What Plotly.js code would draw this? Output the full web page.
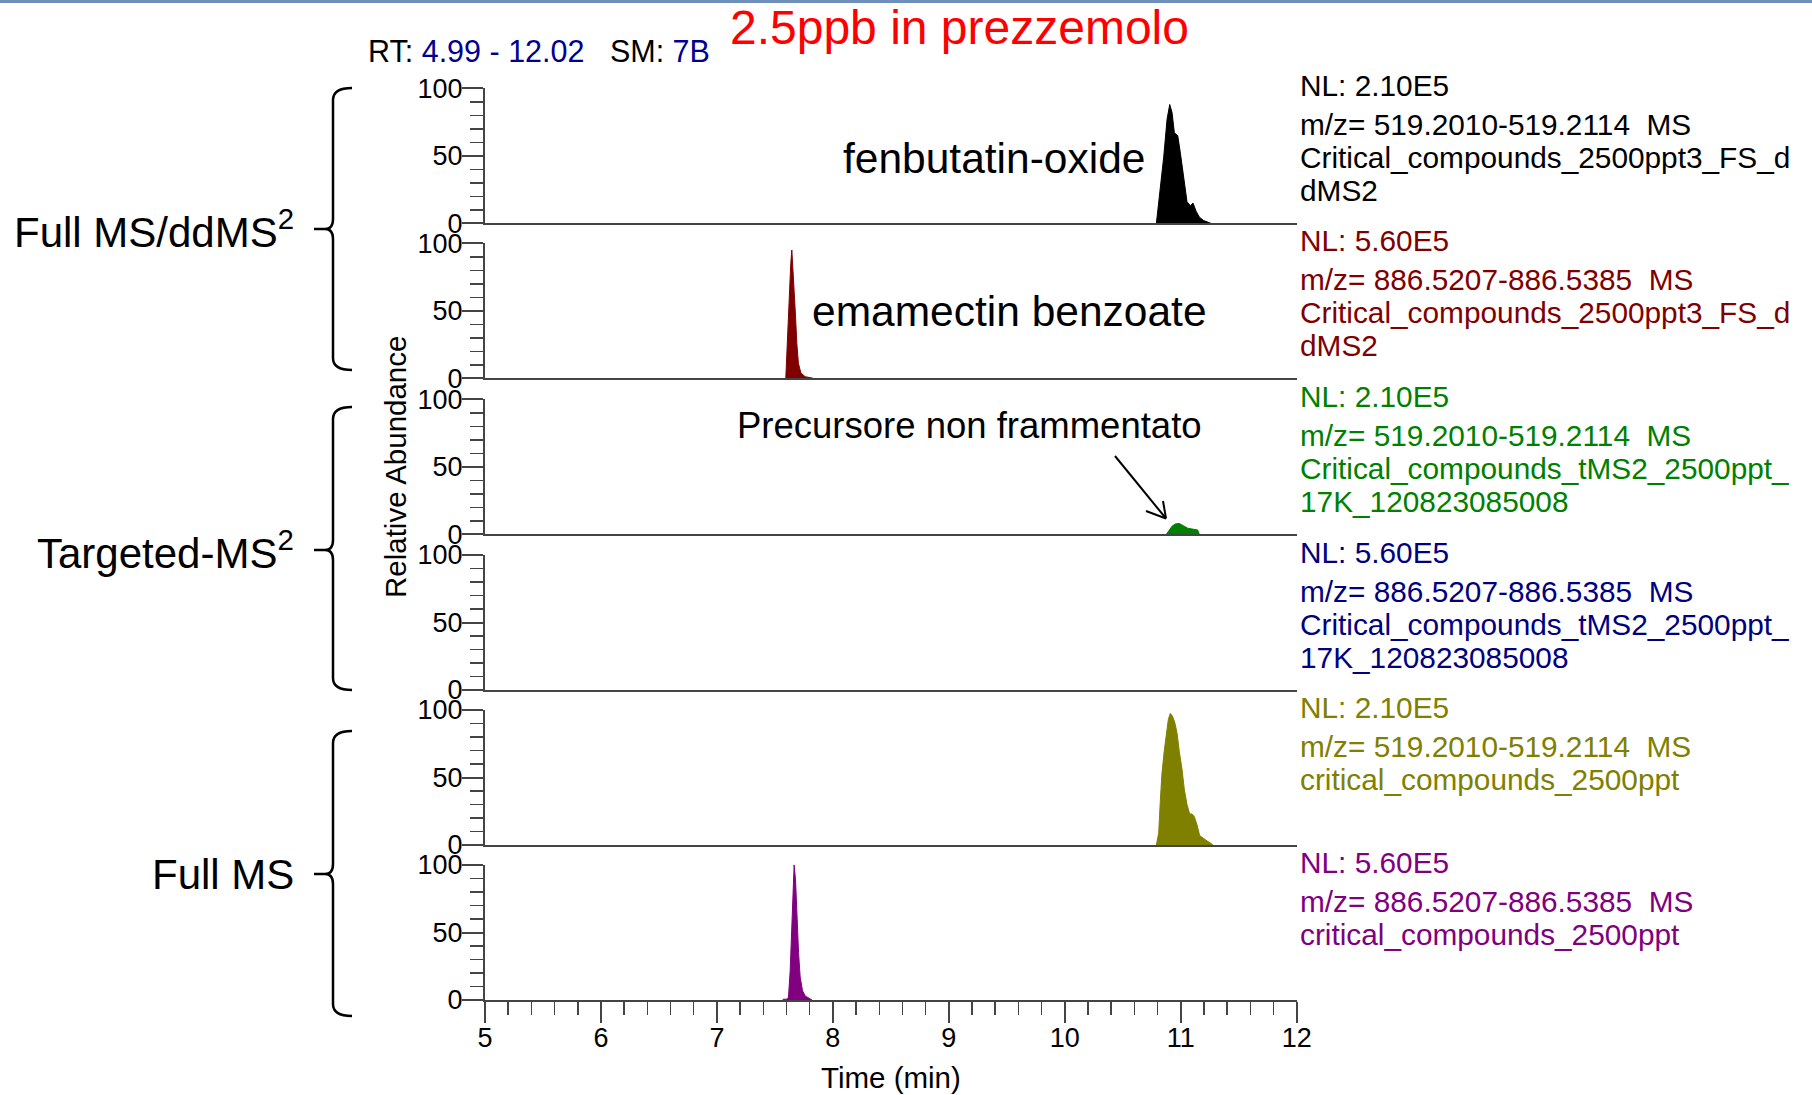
<!DOCTYPE html>
<html>
<head>
<meta charset="utf-8">
<script src="https://cdn.plot.ly/plotly-3.0.1.min.js"></script>
<style>
html,body{margin:0;padding:0;background:#fff;}
#chart{width:1812px;height:1095px;}
</style>
</head>
<body>
<div id="chart"></div>
<script>
// ---------------- data ----------------
// Panel 1: fenbutatin-oxide, Full MS/ddMS2
const timeFenbutatinDD = [10.79, 10.82, 10.853, 10.882, 10.905, 10.925, 10.945, 10.96, 10.974, 10.997, 11.025, 11.054, 11.083, 11.106, 11.132, 11.161, 11.198, 11.241, 11.26];
const intFenbutatinDD  = [0,     22,    49,     77,     88,     82,     67,     66,    65,     52,     35,     16,     13,     15,     9,      4.5,    2,      0.7,    0];
// Panel 2: emamectin benzoate, Full MS/ddMS2
const timeEmamectinDD = [7.594, 7.611, 7.626, 7.637, 7.646, 7.655, 7.666, 7.678, 7.689, 7.703, 7.724, 7.761, 7.819, 7.83];
const intEmamectinDD  = [0,     36,    68,    85,    95,    83,    68,    46,    26,    11,    4,     1.2,   0.2,   0];
// Panel 3: fenbutatin-oxide precursor, targeted MS2
const timeFenbutatinT = [10.876, 10.897, 10.925, 10.954, 10.988, 11.026, 11.060, 11.112, 11.146, 11.160];
const intFenbutatinT  = [0,      3,      6,      7.7,    8,      6.2,    4.5,    3.7,    3.2,    0];
// Panel 4: emamectin benzoate, targeted MS2 (no signal above baseline)
const timeEmamectinT = [];
const intEmamectinT  = [];
// Panel 5: fenbutatin-oxide, Full MS
const timeFenbutatinFS = [10.790, 10.810, 10.824, 10.838, 10.858, 10.876, 10.893, 10.910, 10.927, 10.948, 10.968, 10.988, 11.011, 11.031, 11.054, 11.077, 11.097, 11.117, 11.140, 11.163, 11.192, 11.227, 11.264, 11.278];
const intFenbutatinFS  = [0,      9,      33,     53,     70,     83,     93,     97.5,   95.6,   91,     83,     69,     56,     41,     30,     23,     23,     21,     15,     7,      5,      3,      1,      0];
// Panel 6: emamectin benzoate, Full MS
const timeEmamectinFS = [7.565, 7.575, 7.600, 7.617, 7.632, 7.646, 7.657, 7.666, 7.678, 7.689, 7.704, 7.718, 7.738, 7.761, 7.799, 7.82];
const intEmamectinFS  = [0,     0.6,   0.6,   2,     22,    54,    86,    100,   89,    62,    35,    17,    7,     3,     1,     0];

const panelColors = ['#000000', '#800000', '#008000', '#000080', '#808000', '#800080'];
const nlLabels = ['NL: 2.10E5', 'NL: 5.60E5', 'NL: 2.10E5', 'NL: 5.60E5', 'NL: 2.10E5', 'NL: 5.60E5'];
const mzLabels = [
  'm/z= 519.2010-519.2114\u00A0\u00A0MS',
  'm/z= 886.5207-886.5385\u00A0\u00A0MS',
  'm/z= 519.2010-519.2114\u00A0\u00A0MS',
  'm/z= 886.5207-886.5385\u00A0\u00A0MS',
  'm/z= 519.2010-519.2114\u00A0\u00A0MS',
  'm/z= 886.5207-886.5385\u00A0\u00A0MS'
];
const fileLabels = [
  ['Critical_compounds_2500ppt3_FS_d', 'dMS2'],
  ['Critical_compounds_2500ppt3_FS_d', 'dMS2'],
  ['Critical_compounds_tMS2_2500ppt_', '17K_120823085008'],
  ['Critical_compounds_tMS2_2500ppt_', '17K_120823085008'],
  ['critical_compounds_2500ppt'],
  ['critical_compounds_2500ppt']
];
const groupLabels = ['Full MS/ddMS<sup>2</sup>', 'Targeted-MS<sup>2</sup>', 'Full MS'];
const compoundLabels = ['fenbutatin-oxide', 'emamectin benzoate', 'Precursore non frammentato'];
const titleText = '2.5ppb in prezzemolo';
const xRange = [5, 12];
const yRange = [0, 100];

const seriesT = [timeFenbutatinDD, timeEmamectinDD, timeFenbutatinT, timeEmamectinT, timeFenbutatinFS, timeEmamectinFS];
const seriesV = [intFenbutatinDD, intEmamectinDD, intFenbutatinT, intEmamectinT, intFenbutatinFS, intEmamectinFS];

// ---------------- layout helpers ----------------
const W = 1812, H = 1095;
const px = x => x / W;
const py = y => 1 - y / H;
const FONT = 'Liberation Sans, Arial, Helvetica, sans-serif';
const panelBase = [223.3, 378.3, 534.3, 690, 845, 1000];
const panelH = 135;
const xLeft = 485, xRight = 1296.7;
const axisCol = '#444444';

const traces = [];
const layout = {
  width: W, height: H,
  margin: {l: 0, r: 0, t: 0, b: 0},
  paper_bgcolor: '#ffffff',
  plot_bgcolor: 'rgba(0,0,0,0)',
  showlegend: false,
  font: {family: FONT, color: '#000'},
  annotations: [],
  shapes: []
};

for (let i = 0; i < 6; i++) {
  const sfx = i === 0 ? '' : String(i + 1);
  traces.push({
    type: 'scatter', mode: 'lines',
    x: seriesT[i], y: seriesV[i],
    xaxis: 'x' + sfx, yaxis: 'y' + sfx,
    fill: 'tozeroy',
    line: {color: panelColors[i], width: 1},
    fillcolor: panelColors[i],
    hoverinfo: 'skip'
  });
  const isBottom = i === 5;
  const xa = {
    domain: [px(xLeft), px(xRight)],
    range: xRange,
    anchor: 'y' + sfx,
    layer: 'above traces',
    showline: true, linecolor: axisCol, linewidth: 2,
    showgrid: false, zeroline: false, fixedrange: true,
    ticks: isBottom ? 'outside' : '',
    showticklabels: isBottom,
    tickmode: 'linear', tick0: 5, dtick: 1,
    ticklen: 21, tickwidth: 2, tickcolor: axisCol,
    ticklabelstandoff: -8,
    tickfont: {family: FONT, size: 27, color: '#000'}
  };
  if (isBottom) xa.minor = {dtick: 0.2, tick0: 5, ticks: 'outside', ticklen: 13, tickwidth: 1.5, tickcolor: axisCol};
  layout['xaxis' + sfx] = xa;
  layout['yaxis' + sfx] = {
    domain: [py(panelBase[i]), py(panelBase[i] - panelH)],
    range: yRange,
    anchor: 'x' + sfx,
    layer: 'above traces',
    showline: true, linecolor: axisCol, linewidth: 2,
    showgrid: false, zeroline: false, fixedrange: true,
    ticks: 'outside', tickmode: 'linear', tick0: 0, dtick: 50,
    ticklen: 21, tickwidth: 2, tickcolor: axisCol,
    ticklabelstandoff: -6,
    minor: {dtick: 10, tick0: 0, ticks: 'outside', ticklen: 13, tickwidth: 1.5, tickcolor: axisCol},
    tickfont: {family: FONT, size: 27, color: '#000'}
  };

  // right-hand information text
  const top = panelBase[i] - panelH;
  const lines = [nlLabels[i], mzLabels[i]].concat(fileLabels[i]);
  const offs = [-3, 36, 69.5, 102.5];
  lines.forEach((t, k) => {
    layout.annotations.push({
      xref: 'paper', yref: 'paper', x: px(1298), y: py(top + offs[k]),
      xanchor: 'left', yanchor: 'middle', showarrow: false,
      text: t, font: {family: FONT, size: 29.8, color: panelColors[i]}
    });
  });
}

// title and header
layout.annotations.push({
  xref: 'paper', yref: 'paper', x: px(959), y: py(27), xanchor: 'center', yanchor: 'middle',
  showarrow: false, text: titleText, font: {family: FONT, size: 48, color: '#ff0000'}
});
layout.annotations.push({
  xref: 'paper', yref: 'paper', x: px(366), y: py(51), xanchor: 'left', yanchor: 'middle',
  showarrow: false,
  text: 'RT: <span style="color:#00008f">4.99 - 12.02</span>\u00A0\u00A0\u00A0SM: <span style="color:#00008f">7B</span>',
  font: {family: FONT, size: 30.5, color: '#000'}
});

// compound labels
layout.annotations.push({
  xref: 'paper', yref: 'paper', x: px(994), y: py(158), xanchor: 'center', yanchor: 'middle',
  showarrow: false, text: compoundLabels[0], font: {family: FONT, size: 42.5, color: '#000'}
});
layout.annotations.push({
  xref: 'paper', yref: 'paper', x: px(1010), y: py(312), xanchor: 'center', yanchor: 'middle',
  showarrow: false, text: compoundLabels[1], font: {family: FONT, size: 42.5, color: '#000'}
});
layout.annotations.push({
  xref: 'paper', yref: 'paper', x: px(970), y: py(426), xanchor: 'center', yanchor: 'middle',
  showarrow: false, text: compoundLabels[2], font: {family: FONT, size: 36.5, color: '#000'}
});

// group labels with braces
const groupSpans = [[88, 370, 229], [407, 690, 550], [731, 1016, 874]];
groupSpans.forEach((g, k) => {
  layout.annotations.push({
    xref: 'paper', yref: 'paper', x: px(296), y: py(g[2]), xanchor: 'right', yanchor: 'middle',
    showarrow: false, text: groupLabels[k], font: {family: FONT, size: 42, color: '#000'}
  });
  const [t, b, m] = g;
  const bx = 333, hx = 352, cx = 325;
  const P = (x, y) => px(x).toFixed(6) + ',' + py(y).toFixed(6);
  const path = 'M' + P(hx, t) + ' Q' + P(bx, t) + ' ' + P(bx, t + 12) +
    ' L' + P(bx, m - 10) + ' Q' + P(bx, m) + ' ' + P(cx, m) +
    ' Q' + P(bx, m) + ' ' + P(bx, m + 10) +
    ' L' + P(bx, b - 12) + ' Q' + P(bx, b) + ' ' + P(hx, b) +
    ' M' + P(314, m) + ' L' + P(cx, m);
  layout.shapes.push({type: 'path', xref: 'paper', yref: 'paper', path: path,
    line: {color: '#000', width: 2.5}});
});

// arrow to the precursor peak
const arrowLines = [[1115, 456, 1166, 518.5], [1146, 511, 1166, 518.5], [1163, 501, 1166, 518.5]];
arrowLines.forEach(a => {
  layout.shapes.push({type: 'line', xref: 'paper', yref: 'paper',
    x0: px(a[0]), y0: py(a[1]), x1: px(a[2]), y1: py(a[3]),
    line: {color: '#000', width: 2}});
});

// top border strip
layout.shapes.push({type: 'rect', xref: 'paper', yref: 'paper', x0: 0, x1: 1, y0: py(3), y1: 1,
  fillcolor: '#6f8fbd', line: {width: 0}});

// axis titles
layout.annotations.push({
  xref: 'paper', yref: 'paper', x: px(395), y: py(467), xanchor: 'center', yanchor: 'middle',
  showarrow: false, textangle: -90, text: 'Relative Abundance', font: {family: FONT, size: 29.5, color: '#000'}
});
layout.annotations.push({
  xref: 'paper', yref: 'paper', x: px(891), y: py(1077), xanchor: 'center', yanchor: 'middle',
  showarrow: false, text: 'Time (min)', font: {family: FONT, size: 29.5, color: '#000'}
});

Plotly.newPlot('chart', traces, layout, {displayModeBar: false, staticPlot: true});
</script>
</body>
</html>
